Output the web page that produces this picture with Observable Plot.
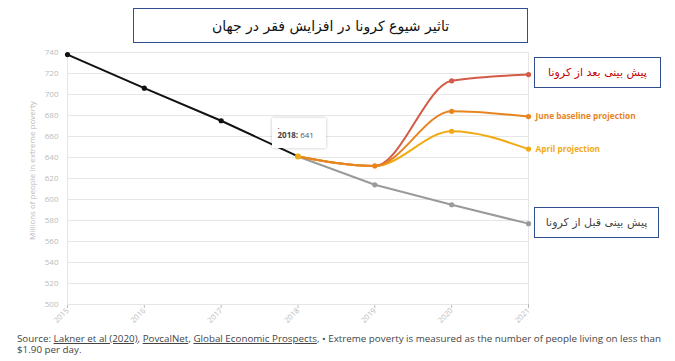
<!DOCTYPE html>
<html><head><meta charset="utf-8">
<script src="https://cdn.jsdelivr.net/npm/d3@7"></script>
<script src="https://cdn.jsdelivr.net/npm/@observablehq/plot@0.6"></script>
<style>
body{margin:0;background:#fff;font-family:"Open Sans",Lato,sans-serif;}
#wrap{position:relative;width:675px;height:361px;overflow:hidden;}
.box{position:absolute;border:1.5px solid #2f4f8f;background:#fff;box-sizing:border-box;display:flex;align-items:center;justify-content:center;font-family:"DejaVu Sans",sans-serif;direction:rtl;}
.cap{position:absolute;left:17px;font-size:9.8px;line-height:11px;color:#444;font-family:"Open Sans",sans-serif;white-space:nowrap;}
.cap .u{text-decoration:underline;}
#tip{position:absolute;background:#fff;box-shadow:0 0 3px rgba(0,0,0,0.25);font-size:8px;color:#555;padding:3px 6px 5px 6px;line-height:10px;font-family:"Open Sans",sans-serif;box-sizing:border-box;}
</style></head>
<body><div id="wrap"></div>
<script>
const years = [2015, 2016, 2017, 2018, 2019, 2020, 2021];
const historical = [738, 706, 675, 641];            // 2015-2018
const preCovidYears = [2018, 2019, 2020, 2021];
const preCovid = [641, 614, 595, 577];
const projYears = [2018, 2019, 2020, 2021];
const downside = [641, 632, 713, 719];
const juneBaseline = [641, 632, 684, 679];
const aprilProj = [641, 632, 665, 648];
const yTicks = [500,520,540,560,580,600,620,640,660,680,700,720,740];

const mk = (xs, vs, s) => xs.map((x, i) => ({year: x, value: vs[i], series: s}));
const hist = mk(years.slice(0, 4), historical, "hist");
const pre = mk(preCovidYears, preCovid, "pre");
const down = mk(projYears, downside, "down");
const june = mk(projYears, juneBaseline, "june");
const april = mk(projYears, aprilProj, "april");

const cRed = "#d35a45", cJune = "#e8841f", cApril = "#f2aa14", cGray = "#9a9a9a";

const plot = Plot.plot({
  width: 675, height: 361,
  marginLeft: 67, marginRight: 147, marginTop: 52, marginBottom: 57,
  style: {fontFamily: "Open Sans, sans-serif", fontSize: "8px", color: "#bbb", background: "transparent", overflow: "visible"},
  x: {domain: [2015, 2021], ticks: years, tickFormat: d => String(d), tickRotate: -45, tickSize: 4, tickPadding: 1, label: null},
  y: {domain: [500, 740], ticks: yTicks, tickSize: 0, tickPadding: 9, label: null},
  marks: [
    Plot.gridY(yTicks, {stroke: "#e6e6e6", strokeOpacity: 1}),
    Plot.ruleX([2015], {stroke: "#e6e6e6"}),
    Plot.ruleX([2021], {y1: 500, y2: 740, stroke: "#e6e6e6"}),
    Plot.text(["Millions of people in extreme poverty"], {frameAnchor: "left", textAnchor: "middle", dx: -35, dy: -8, rotate: -90, fill: "#bbb", fontSize: 8, text: d => d}),
    Plot.line(pre, {x: "year", y: "value", stroke: cGray, strokeWidth: 2}),
    Plot.line(down, {x: "year", y: "value", stroke: cRed, strokeWidth: 2, curve: "monotone-x"}),
    Plot.line(april, {x: "year", y: "value", stroke: cApril, strokeWidth: 2, curve: "monotone-x"}),
    Plot.line(june, {x: "year", y: "value", stroke: cJune, strokeWidth: 2, curve: "monotone-x"}),
    Plot.line(hist, {x: "year", y: "value", stroke: "#111", strokeWidth: 2}),
    Plot.dot(pre, {x: "year", y: "value", fill: cGray, r: 2.6}),
    Plot.dot(down.slice(2), {x: "year", y: "value", fill: cRed, r: 2.6}),
    Plot.dot(april.slice(2), {x: "year", y: "value", fill: cApril, r: 2.6}),
    Plot.dot(june.slice(1), {x: "year", y: "value", fill: cJune, r: 2.6}),
    Plot.dot(hist.slice(0, 3), {x: "year", y: "value", fill: "#111", r: 2.6}),
    Plot.dot(hist.slice(3), {x: "year", y: "value", fill: cApril, r: 3}),
    Plot.text(june.slice(-1), {x: "year", y: "value", text: () => "June baseline projection", dx: 7, textAnchor: "start", fill: cJune, fontWeight: "bold", fontSize: 8.3}),
    Plot.text(april.slice(-1), {x: "year", y: "value", text: () => "April projection", dx: 7, textAnchor: "start", fill: cApril, fontWeight: "bold", fontSize: 8.3})
  ]
});
const wrap = document.getElementById("wrap");
wrap.appendChild(plot);
plot.style.position = "absolute"; plot.style.left = "0"; plot.style.top = "0";
plot.querySelectorAll("g[aria-label='x-axis tick label'] text, g[aria-label='x-axis tick label']").forEach(e => e.setAttribute("font-size", "7.6"));

const sx = plot.scale("x"), sy = plot.scale("y");

// title box
const t = document.createElement("div");
t.className = "box";
Object.assign(t.style, {left: "133px", top: "8px", width: "395px", height: "35px", fontSize: "14px", color: "#111"});
t.textContent = "تاثیر شیوع کرونا در افزایش فقر در جهان";
wrap.appendChild(t);

// annotation boxes
const xEnd = sx.apply(2021);
const b1 = document.createElement("div");
b1.className = "box";
Object.assign(b1.style, {left: (xEnd + 6) + "px", top: "57px", width: "127px", height: "31px", fontSize: "11px", color: "#c00000"});
b1.textContent = "پیش بینی بعد از کرونا";
wrap.appendChild(b1);
const b2 = document.createElement("div");
b2.className = "box";
Object.assign(b2.style, {left: (xEnd + 6) + "px", top: "207px", width: "125px", height: "31px", fontSize: "11px", color: "#444"});
b2.textContent = "پیش بینی قبل از کرونا";
wrap.appendChild(b2);

// tooltip
const tip = document.createElement("div");
tip.id = "tip";
const tx = sx.apply(2018), ty = sy.apply(641);
Object.assign(tip.style, {left: (tx - 26) + "px", top: (ty - 38) + "px", width: "54px", height: "30px"});
tip.innerHTML = '<div style="line-height:9px;color:#333">.</div><div><b style="color:#444">2018:</b><span> 641</span></div>';
wrap.appendChild(tip);

// caption (two lines as in the reference)
const cap1 = document.createElement("div");
cap1.className = "cap"; cap1.style.top = "333px";
cap1.innerHTML = '<span>Source: </span><span class="u">Lakner et al (2020)</span><span>, </span><span class="u">PovcalNet</span><span>, </span><span class="u">Global Economic Prospects</span><span>, • Extreme poverty is measured as the number of people living on less than</span>';
wrap.appendChild(cap1);
const cap2 = document.createElement("div");
cap2.className = "cap"; cap2.style.top = "344px";
cap2.textContent = "$1.90 per day.";
wrap.appendChild(cap2);
</script>
</body></html>
